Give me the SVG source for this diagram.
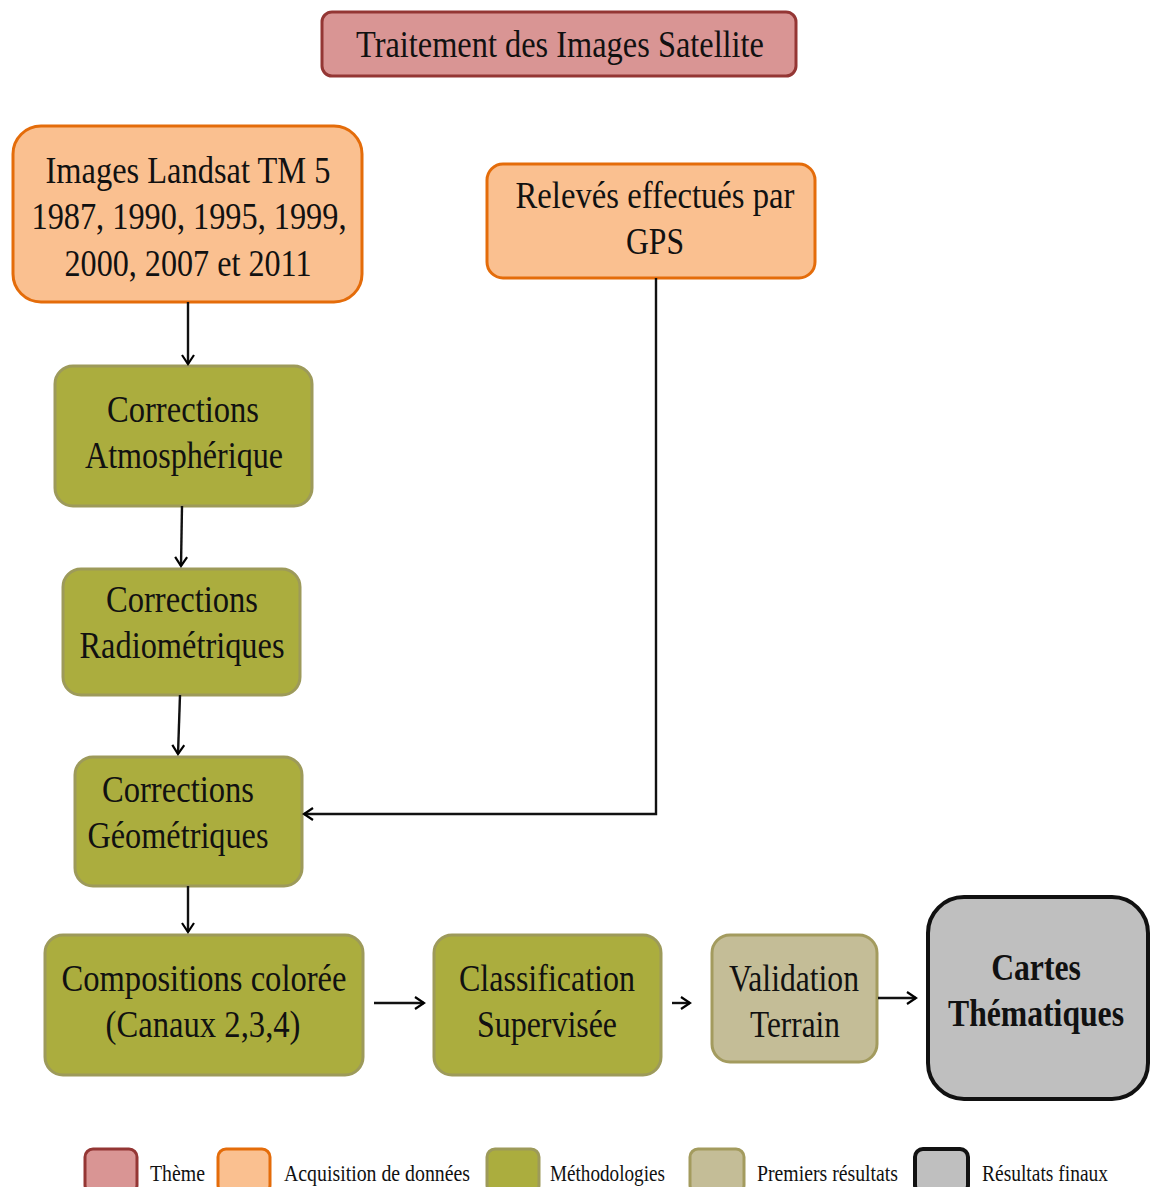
<svg xmlns="http://www.w3.org/2000/svg" width="1150" height="1187" viewBox="0 0 1150 1187">
<defs>
<marker id="ah" markerWidth="14" markerHeight="14" refX="11" refY="7" orient="auto" markerUnits="userSpaceOnUse">
<path d="M2,1 L11,7 L2,13" fill="none" stroke="#000" stroke-width="2.2"/>
</marker>
<style>
text{font-family:"Liberation Serif","Times New Roman",serif;fill:#111;text-anchor:middle}
.t{font-size:38px}
.b{font-size:38px;font-weight:bold}
.lg{font-size:23px;text-anchor:start}
.theme{fill:#D99594;stroke:#943634;stroke-width:3}
.acq{fill:#FAC090;stroke:#E46C0A;stroke-width:3}
.met{fill:#ABAD3E;stroke:#9D9A5A;stroke-width:3}
.pre{fill:#C4BD97;stroke:#A39B5E;stroke-width:3}
.fin{fill:#BFBFBF;stroke:#111;stroke-width:4}
.c{fill:none;stroke:#111;stroke-width:2.4}
</style>
</defs>
<rect width="1150" height="1187" fill="#fff"/>

<g id="title">
<rect class="theme" x="322" y="12" width="474" height="64" rx="10"/>
<text class="t" x="560" y="57" textLength="408" lengthAdjust="spacingAndGlyphs">Traitement des Images Satellite</text>
</g>

<g id="landsat">
<rect class="acq" x="13" y="126" width="349" height="176" rx="28"/>
<text class="t" x="188" y="183" textLength="285" lengthAdjust="spacingAndGlyphs">Images Landsat TM 5</text>
<text class="t" x="189" y="229" textLength="315" lengthAdjust="spacingAndGlyphs">1987, 1990, 1995, 1999,</text>
<text class="t" x="188" y="276" textLength="247" lengthAdjust="spacingAndGlyphs">2000, 2007 et 2011</text>
</g>

<g id="gps">
<rect class="acq" x="487" y="164" width="328" height="114" rx="16"/>
<text class="t" x="655" y="208" textLength="279" lengthAdjust="spacingAndGlyphs">Relevés effectués par</text>
<text class="t" x="655" y="254" textLength="58" lengthAdjust="spacingAndGlyphs">GPS</text>
</g>

<g id="atmos">
<rect class="met" x="55" y="366" width="257" height="140" rx="18"/>
<text class="t" x="183" y="422" textLength="152" lengthAdjust="spacingAndGlyphs">Corrections</text>
<text class="t" x="184" y="468" textLength="198" lengthAdjust="spacingAndGlyphs">Atmosphérique</text>
</g>

<g id="radio">
<rect class="met" x="63" y="569" width="237" height="126" rx="18"/>
<text class="t" x="182" y="612" textLength="152" lengthAdjust="spacingAndGlyphs">Corrections</text>
<text class="t" x="182" y="658" textLength="205" lengthAdjust="spacingAndGlyphs">Radiométriques</text>
</g>

<g id="geo">
<rect class="met" x="75" y="757" width="227" height="129" rx="18"/>
<text class="t" x="178" y="802" textLength="152" lengthAdjust="spacingAndGlyphs">Corrections</text>
<text class="t" x="178" y="848" textLength="181" lengthAdjust="spacingAndGlyphs">Géométriques</text>
</g>

<g id="compo">
<rect class="met" x="45" y="935" width="318" height="140" rx="18"/>
<text class="t" x="204" y="991" textLength="285" lengthAdjust="spacingAndGlyphs">Compositions colorée</text>
<text class="t" x="203" y="1037" textLength="195" lengthAdjust="spacingAndGlyphs">(Canaux 2,3,4)</text>
</g>

<g id="classif">
<rect class="met" x="434" y="935" width="227" height="140" rx="18"/>
<text class="t" x="547" y="991" textLength="176" lengthAdjust="spacingAndGlyphs">Classification</text>
<text class="t" x="547" y="1037" textLength="140" lengthAdjust="spacingAndGlyphs">Supervisée</text>
</g>

<g id="valid">
<rect class="pre" x="712" y="935" width="165" height="127" rx="18"/>
<text class="t" x="794" y="991" textLength="130" lengthAdjust="spacingAndGlyphs">Validation</text>
<text class="t" x="795" y="1037" textLength="90" lengthAdjust="spacingAndGlyphs">Terrain</text>
</g>

<g id="cartes">
<rect class="fin" x="928" y="897" width="220" height="202" rx="36"/>
<text class="b" transform="translate(1036,980) scale(0.834,1)" x="0" y="0">Cartes</text>
<text class="b" transform="translate(1036,1026) scale(0.834,1)" x="0" y="0">Thématiques</text>
</g>

<g id="connectors">
<line class="c" x1="188" y1="302" x2="188" y2="364" marker-end="url(#ah)"/>
<line class="c" x1="182" y1="506" x2="181" y2="566" marker-end="url(#ah)"/>
<line class="c" x1="180" y1="695" x2="178" y2="754" marker-end="url(#ah)"/>
<polyline class="c" points="656,278 656,814 304,814" marker-end="url(#ah)"/>
<line class="c" x1="188" y1="886" x2="188" y2="932" marker-end="url(#ah)"/>
<line class="c" x1="374" y1="1003" x2="424" y2="1003" marker-end="url(#ah)"/>
<line class="c" x1="672" y1="1003" x2="690" y2="1003" marker-end="url(#ah)"/>
<line class="c" x1="878" y1="998" x2="916" y2="998" marker-end="url(#ah)"/>
</g>

<g id="legend">
<rect class="theme" x="85" y="1149" width="52" height="44" rx="8"/>
<text class="lg" x="150" y="1181" textLength="55" lengthAdjust="spacingAndGlyphs">Thème</text>
<rect class="acq" x="218" y="1149" width="52" height="44" rx="8"/>
<text class="lg" x="284" y="1181" textLength="186" lengthAdjust="spacingAndGlyphs">Acquisition  de données</text>
<rect class="met" x="487" y="1149" width="52" height="44" rx="8"/>
<text class="lg" x="550" y="1181" textLength="115" lengthAdjust="spacingAndGlyphs">Méthodologies</text>
<rect class="pre" x="690" y="1149" width="54" height="44" rx="8"/>
<text class="lg" x="757" y="1181" textLength="141" lengthAdjust="spacingAndGlyphs">Premiers résultats</text>
<rect class="fin" x="915" y="1149" width="53" height="44" rx="8"/>
<text class="lg" x="982" y="1181" textLength="126" lengthAdjust="spacingAndGlyphs">Résultats finaux</text>
</g>
</svg>
